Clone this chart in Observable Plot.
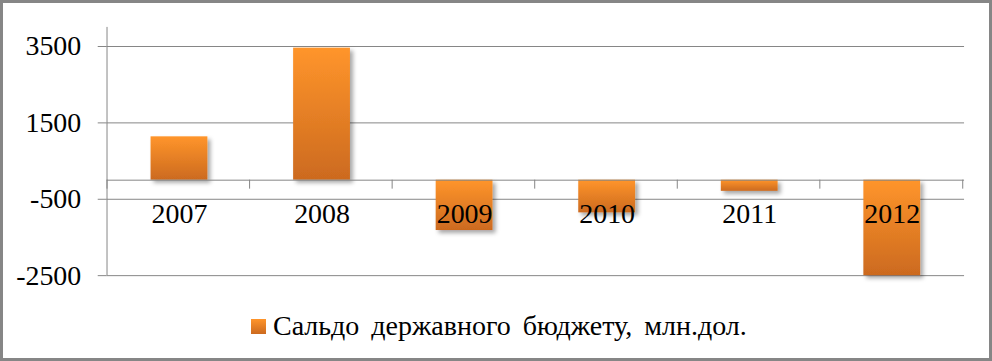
<!DOCTYPE html>
<html>
<head>
<meta charset="utf-8">
<script src="https://cdn.jsdelivr.net/npm/d3@7"></script>
<script src="https://cdn.jsdelivr.net/npm/@observablehq/plot@0.6"></script>
<style>
  html, body { margin: 0; padding: 0; background: #fff; }
  #frame {
    position: relative; width: 992px; height: 361px; box-sizing: border-box;
    border: 3px solid #868686; overflow: hidden; background: #fff;
    font-family: "Liberation Serif", "Times New Roman", serif;
  }
  #chart { position: absolute; left: -3px; top: -3px; }
  #legend {
    position: absolute; left: 248px; top: 306px; height: 34px;
    display: flex; align-items: center; font-size: 28px; color: #000;
    word-spacing: 5px; white-space: nowrap;
  }
  #legend .sw {
    width: 15px; height: 15px; margin-right: 7px;
    background: linear-gradient(to bottom, #ff952b, #cc6a1f);
  }
</style>
</head>
<body>
<svg width="0" height="0" style="position:absolute">
  <defs>
    <linearGradient id="barGrad" x1="0" y1="0" x2="0" y2="1">
      <stop offset="0" stop-color="#ff952b"/>
      <stop offset="1" stop-color="#cc6a1f"/>
    </linearGradient>
    <filter id="barShadow" x="-20%" y="-20%" width="150%" height="150%">
      <feDropShadow dx="3" dy="3" stdDeviation="2" flood-color="#000" flood-opacity="0.35"/>
    </filter>
  </defs>
</svg>
<div id="frame">
  <div id="chart"></div>
  <div id="legend"><div class="sw"></div><span>Сальдо державного бюджету, млн.дол.</span></div>
</div>
<script>
const years = ["2007", "2008", "2009", "2010", "2011", "2012"];
const values = [1135, 3457, -1318, -856, -292, -2500];
const yTicks = [3500, 1500, -500, -2500];
const legendLabel = "Сальдо державного бюджету, млн.дол.";

const data = years.map((y, i) => ({year: y, value: values[i]}));
const axisGray = "#868686";
const step = 860 / 6;

const chart = Plot.plot({
  width: 992,
  height: 300,
  marginLeft: 107,
  marginRight: 25,
  marginTop: 27,
  marginBottom: 24,
  style: {fontFamily: "'Liberation Serif', 'Times New Roman', serif", background: "transparent", overflow: "visible"},
  x: {domain: years, paddingInner: 0.6, paddingOuter: 0.3, axis: null},
  y: {domain: [-2500, 4000], axis: null},
  marks: [
    Plot.gridY(yTicks, {stroke: axisGray, strokeOpacity: 1, strokeWidth: 1}),
    Plot.axisY(yTicks, {tickSize: 9, tickPadding: 17, stroke: axisGray, fill: "#000", fontSize: 28, label: null, tickFormat: d => String(d)}),
    Plot.ruleX([years[0]], {x: d => d, y1: -2500, y2: 4000, dx: -step / 2 - 1, stroke: axisGray, strokeWidth: 1}),
    Plot.barY(data, {x: "year", y: "value", fill: "url(#barGrad)",
      render: (index, scales, values, dims, context, next) => {
        const g = next(index, scales, values, dims, context);
        g.setAttribute("filter", "url(#barShadow)");
        return g;
      }}),
    Plot.ruleY([0], {stroke: axisGray, strokeWidth: 1}),
    Plot.ruleX(years, {x: d => d, y1: 0, y2: -235, dx: -step / 2 - 1, stroke: axisGray}),
    Plot.ruleX([years[years.length - 1]], {x: d => d, y1: 0, y2: -235, dx: step / 2 - 1, stroke: axisGray}),
    Plot.text(data, {x: "year", y: -500, dy: 15, text: "year", fontSize: 28, fill: "#000"})
  ]
});
document.getElementById("chart").appendChild(chart);
document.querySelector("#legend span").textContent = legendLabel;
</script>
</body>
</html>
